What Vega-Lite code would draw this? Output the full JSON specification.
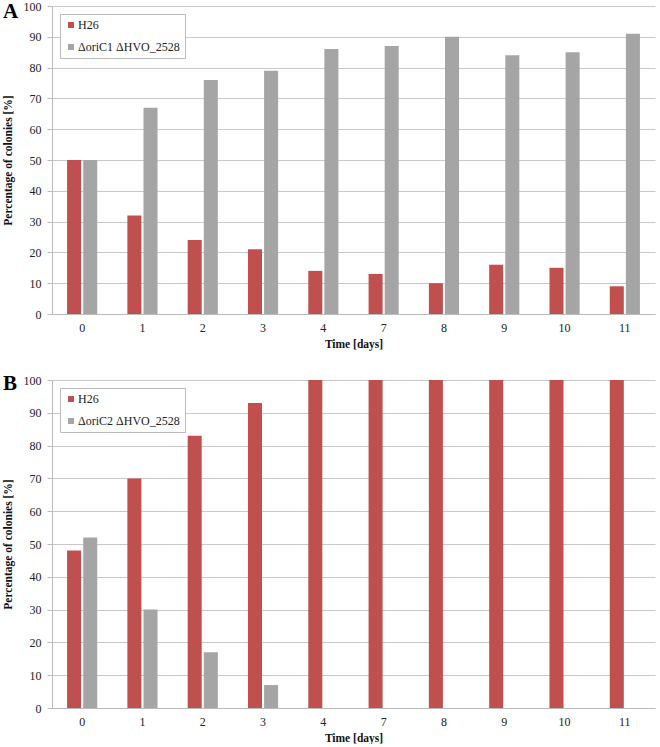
{
  "$schema": "https://vega.github.io/schema/vega-lite/v6.json",
  "padding": {"left": 2, "top": 0, "right": 5, "bottom": 0},
  "background": "white",
  "config": {
    "font": "Liberation Serif",
    "view": {"stroke": null},
    "axis": {"labelFont": "Liberation Serif", "titleFont": "Liberation Serif", "labelColor": "#222", "titleColor": "#111", "labelFontSize": 12, "titleFontSize": 11.5, "titleFontWeight": "bold"},
    "legend": {"labelFont": "Liberation Serif", "labelFontSize": 12, "labelColor": "#222"}
  },
  "datasets": {
    "a": [
      {"day": "0", "series": "H26", "value": 50},
      {"day": "1", "series": "H26", "value": 32},
      {"day": "2", "series": "H26", "value": 24},
      {"day": "3", "series": "H26", "value": 21},
      {"day": "4", "series": "H26", "value": 14},
      {"day": "7", "series": "H26", "value": 13},
      {"day": "8", "series": "H26", "value": 10},
      {"day": "9", "series": "H26", "value": 16},
      {"day": "10", "series": "H26", "value": 15},
      {"day": "11", "series": "H26", "value": 9},
      {"day": "0", "series": "ΔoriC1 ΔHVO_2528", "value": 50},
      {"day": "1", "series": "ΔoriC1 ΔHVO_2528", "value": 67},
      {"day": "2", "series": "ΔoriC1 ΔHVO_2528", "value": 76},
      {"day": "3", "series": "ΔoriC1 ΔHVO_2528", "value": 79},
      {"day": "4", "series": "ΔoriC1 ΔHVO_2528", "value": 86},
      {"day": "7", "series": "ΔoriC1 ΔHVO_2528", "value": 87},
      {"day": "8", "series": "ΔoriC1 ΔHVO_2528", "value": 90},
      {"day": "9", "series": "ΔoriC1 ΔHVO_2528", "value": 84},
      {"day": "10", "series": "ΔoriC1 ΔHVO_2528", "value": 85},
      {"day": "11", "series": "ΔoriC1 ΔHVO_2528", "value": 91}
    ],
    "b": [
      {"day": "0", "series": "H26", "value": 48},
      {"day": "1", "series": "H26", "value": 70},
      {"day": "2", "series": "H26", "value": 83},
      {"day": "3", "series": "H26", "value": 93},
      {"day": "4", "series": "H26", "value": 100},
      {"day": "7", "series": "H26", "value": 100},
      {"day": "8", "series": "H26", "value": 100},
      {"day": "9", "series": "H26", "value": 100},
      {"day": "10", "series": "H26", "value": 100},
      {"day": "11", "series": "H26", "value": 100},
      {"day": "0", "series": "ΔoriC2 ΔHVO_2528", "value": 52},
      {"day": "1", "series": "ΔoriC2 ΔHVO_2528", "value": 30},
      {"day": "2", "series": "ΔoriC2 ΔHVO_2528", "value": 17},
      {"day": "3", "series": "ΔoriC2 ΔHVO_2528", "value": 7},
      {"day": "4", "series": "ΔoriC2 ΔHVO_2528", "value": 0},
      {"day": "7", "series": "ΔoriC2 ΔHVO_2528", "value": 0},
      {"day": "8", "series": "ΔoriC2 ΔHVO_2528", "value": 0},
      {"day": "9", "series": "ΔoriC2 ΔHVO_2528", "value": 0},
      {"day": "10", "series": "ΔoriC2 ΔHVO_2528", "value": 0},
      {"day": "11", "series": "ΔoriC2 ΔHVO_2528", "value": 0}
    ]
  },
  "spacing": 23,
  "resolve": {"scale": {"color": "independent", "xOffset": "independent"}, "legend": {"color": "independent"}},
  "vconcat": [
    {
      "data": {"name": "a"},
      "width": 603,
      "height": 308,
      "title": {"text": "A", "anchor": "start", "frame": "group", "fontSize": 21, "fontWeight": "bold", "font": "Liberation Serif", "dx": -49, "dy": 22, "offset": 0, "color": "#000"},
      "mark": {"type": "bar"},
      "encoding": {
        "x": {"field": "day", "type": "ordinal", "sort": null, "title": "Time [days]",
              "scale": {"paddingInner": 0.5, "paddingOuter": 0.25},
              "axis": {"labelAngle": 0, "ticks": false, "domainColor": "#bbb", "labelPadding": 8, "titleAlign": "center", "titlePadding": 5}},
        "xOffset": {"field": "series", "type": "nominal", "sort": null, "scale": {"paddingInner": 0.13, "paddingOuter": 0}},
        "y": {"field": "value", "type": "quantitative", "title": "Percentage of colonies [%]",
              "scale": {"domain": [0, 100]},
              "axis": {"values": [0,10,20,30,40,50,60,70,80,90,100], "gridColor": "#c9c9c9", "domainColor": "#bbb", "tickColor": "#bbb", "tickSize": 5, "labelPadding": 6, "titlePadding": 10}},
        "color": {"field": "series", "type": "nominal",
                  "scale": {"domain": ["H26", "ΔoriC1 ΔHVO_2528"], "range": ["#C0504D", "#A5A5A5"]},
                  "legend": {"title": null, "orient": "top-left", "offset": 8, "fillColor": "white", "strokeColor": "#bbb", "padding": 5, "symbolType": "square", "symbolSize": 36, "rowPadding": 10, "labelOffset": 1}}
      }
    },
    {
      "data": {"name": "b"},
      "width": 603,
      "height": 328,
      "title": {"text": "B", "anchor": "start", "frame": "group", "fontSize": 21, "fontWeight": "bold", "font": "Liberation Serif", "dx": -49, "dy": 20, "offset": 0, "color": "#000"},
      "mark": {"type": "bar"},
      "encoding": {
        "x": {"field": "day", "type": "ordinal", "sort": null, "title": "Time [days]",
              "scale": {"paddingInner": 0.5, "paddingOuter": 0.25},
              "axis": {"labelAngle": 0, "ticks": false, "domainColor": "#bbb", "labelPadding": 8, "titleAlign": "center", "titlePadding": 5}},
        "xOffset": {"field": "series", "type": "nominal", "sort": null, "scale": {"paddingInner": 0.13, "paddingOuter": 0}},
        "y": {"field": "value", "type": "quantitative", "title": "Percentage of colonies [%]",
              "scale": {"domain": [0, 100]},
              "axis": {"values": [0,10,20,30,40,50,60,70,80,90,100], "gridColor": "#c9c9c9", "domainColor": "#bbb", "tickColor": "#bbb", "tickSize": 5, "labelPadding": 6, "titlePadding": 10}},
        "color": {"field": "series", "type": "nominal",
                  "scale": {"domain": ["H26", "ΔoriC2 ΔHVO_2528"], "range": ["#C0504D", "#A5A5A5"]},
                  "legend": {"title": null, "orient": "top-left", "offset": 8, "fillColor": "white", "strokeColor": "#bbb", "padding": 5, "symbolType": "square", "symbolSize": 36, "rowPadding": 10, "labelOffset": 1}}
      }
    }
  ]
}
